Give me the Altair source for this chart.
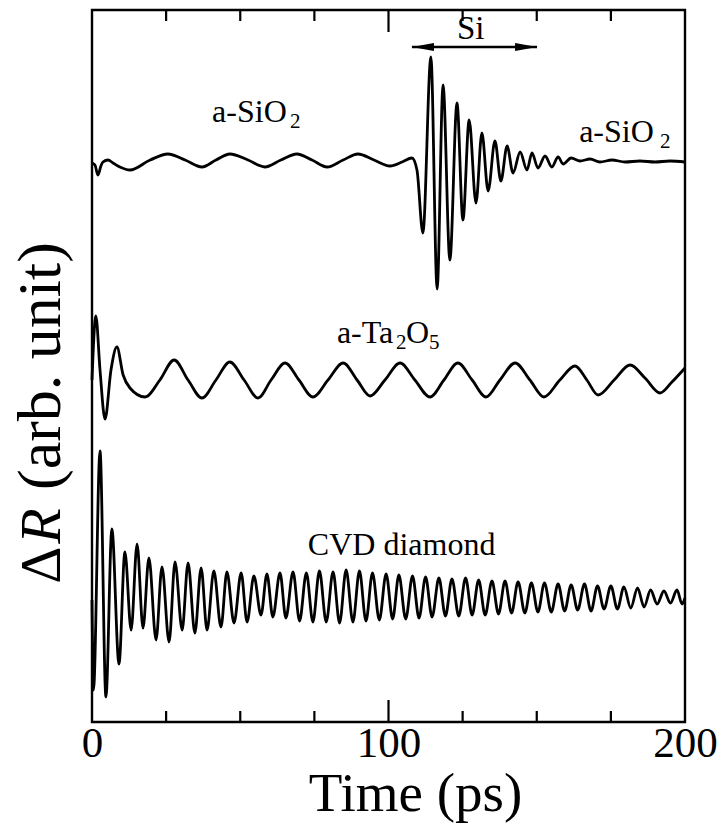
import altair as alt
import pandas as pd

# ---------------- data (time in ps, dR in arb. units) ----------------
sio2_t = [0.0, 1.0, 2.0, 3.0, 3.7, 5.4, 7.1, 9.4, 12.8, 19.6, 25.6, 31.4, 37.1, 41.8, 46.5,
          52.6, 58.3, 63.7, 69.1, 74.2, 79.3, 84.7, 89.7, 95.1, 100.5, 104.6, 107.9, 109.6,
          111.6, 114.3, 116.4, 118.4, 120.7, 123.1, 125.1, 127.2, 129.5, 131.5, 133.6, 135.9,
          137.9, 140.0, 142.0, 144.4, 146.7, 148.4, 150.4, 152.8, 155.1, 157.2, 158.9, 161.6,
          164.6, 168.0, 171.3, 175.4, 179.8, 184.8, 189.9, 194.9, 200.0]
sio2_dr = [559, 557, 547, 556, 560, 562, 559, 555, 552, 562, 568, 562, 555, 562, 568,
           562, 555, 562, 568, 562, 555, 562, 568, 562, 556, 560, 564, 552,
           489, 665, 433, 637, 462, 619, 502, 602, 519, 589, 531, 581,
           541, 576, 549, 570, 552, 569, 554, 566, 555, 565, 558, 564,
           561, 563, 560, 562, 560, 561, 560, 561, 560]

ta2o5_t = [0.0, 1.3, 2.7, 4.4, 6.4, 8.4, 10.5, 12.8, 17.9, 22.9, 27.7, 32.4, 37.1, 41.8, 46.5,
           51.3, 56.0, 60.4, 65.1, 69.8, 74.5, 79.6, 84.7, 89.4, 93.8, 98.8, 103.9, 108.9,
           114.0, 118.7, 123.4, 128.2, 132.9, 137.6, 142.7, 147.7, 152.4, 157.8, 162.9, 166.9,
           170.7, 176.1, 181.5, 186.5, 191.6, 195.6, 200.0]
ta2o5_dr = [342, 406, 352, 303, 352, 375, 347, 334, 325, 342, 362, 342, 324, 342, 360,
            342, 324, 342, 359, 342, 325, 342, 359, 342, 326, 342, 359, 342,
            325, 342, 359, 342, 325, 342, 359, 342, 325, 342, 356, 342,
            327, 342, 357, 344, 329, 340, 354]

diamond_t = [0.0, 0.5, 2.7, 4.7, 6.7, 9.1, 11.1, 13.2, 15.2, 17.2, 19.2, 21.6, 23.6, 26.0,
             28.0, 30.4, 32.4, 34.7, 36.8, 38.8, 41.1, 43.5, 45.5, 47.9, 50.3, 52.3, 54.6,
             57.0, 59.0, 61.0, 63.4, 65.4, 67.8, 70.0, 72.3, 74.5, 76.7, 79.0, 81.3, 83.5,
             85.7, 88.0, 90.2, 92.4, 94.6, 96.9, 99.2, 101.4, 103.5, 105.8, 108.1, 110.3,
             112.5, 114.7, 117.0, 119.2, 121.4, 123.7, 126.0, 128.2, 130.4, 132.6, 134.9,
             137.1, 139.3, 141.5, 143.7, 146.0, 148.2, 150.4, 152.6, 154.9, 157.2, 159.4,
             161.6, 163.8, 166.1, 168.3, 170.5, 172.7, 175.0, 177.2, 179.4, 181.7, 184.0,
             186.2, 188.4, 190.6, 192.9, 195.1, 197.3, 199.0, 200.0]
diamond_dr = [122, 32, 271, 25, 193, 58, 170, 92, 178, 94, 164, 82, 155, 80,
              160, 92, 159, 89, 154, 92, 151, 95, 150, 99, 149, 100, 146,
              107, 148, 105, 149, 104, 150, 101, 149, 100, 151, 100, 150, 99,
              152, 100, 151, 101, 149, 102, 148, 103, 147, 103, 146, 104,
              145, 105, 144, 106, 143, 106, 144, 107, 142, 107, 141,
              108, 141, 109, 140, 109, 139, 110, 139, 110, 138, 111,
              137, 112, 138, 111, 136, 113, 136, 113, 135, 114, 134,
              115, 132, 118, 131, 119, 132, 118, 124]

x_label_values = [0, 100, 200]
x_major_ticks = [100]
x_minor_ticks = [25, 50, 75, 125, 150, 175]

# annotation texts (position in data coordinates)
ann_text = ["a-SiO", "2", "a-SiO", "2", "Si", "a-Ta", "2", "O", "5", "CVD diamond"]
ann_t = [40.5, 66.8, 164.3, 191.6, 123.1, 82.6, 102.5, 105.9, 113.7, 72.8]
ann_dr = [600, 594, 580, 574, 683, 379, 373, 379, 373, 167]
ann_fs = [32, 21, 32, 21, 33, 32, 21, 32, 21, 32]

si_range = [107.9, 150.1]   # double arrow extent (ps)
si_arrow_dr = 675

FONT = "Liberation Serif"

# ---------------- build tables ----------------
rows = []
for name, ts, vs in [("a-SiO2", sio2_t, sio2_dr), ("a-Ta2O5", ta2o5_t, ta2o5_dr),
                     ("CVD diamond", diamond_t, diamond_dr)]:
    for i, (t, v) in enumerate(zip(ts, vs)):
        rows.append({"series": name, "t": t, "dr": v, "order": i})
traces = pd.DataFrame(rows)

tick_rows = []
for t in x_major_ticks:
    tick_rows.append({"t": t, "y0": 0, "y1": 22})
    tick_rows.append({"t": t, "y0": 712, "y1": 690})
for t in x_minor_ticks:
    tick_rows.append({"t": t, "y0": 0, "y1": 11})
    tick_rows.append({"t": t, "y0": 712, "y1": 701})
ticks = pd.DataFrame(tick_rows)

ann = pd.DataFrame({"text": ann_text, "t": ann_t, "dr": ann_dr, "fs": ann_fs})
arrow = pd.DataFrame({"t": [si_range[0]], "t2": [si_range[1]], "dr": [si_arrow_dr]})
head_l = pd.DataFrame({"t": [si_range[0]], "dr": [si_arrow_dr]})
head_r = pd.DataFrame({"t": [si_range[1]], "dr": [si_arrow_dr]})

xs = alt.Scale(domain=[0, 200], nice=False, zero=False)
ys = alt.Scale(domain=[0, 712], nice=False, zero=False)

x_axis = alt.Axis(values=x_label_values, title="Time (ps)", ticks=False, domain=False,
                  grid=False, labelFont=FONT, labelFontSize=43, labelColor="black",
                  labelPadding=0, labelFlush=False, titleFont=FONT, titleFontSize=55,
                  titleFontWeight="normal", titleColor="black", titlePadding=2,
                  titleX=323, titleAlign="center")

lines = alt.Chart(traces).mark_line(color="black", strokeWidth=2.8,
                                    interpolate="monotone").encode(
    x=alt.X("t:Q", scale=xs, axis=x_axis),
    y=alt.Y("dr:Q", scale=ys, axis=None),
    detail="series:N",
    order="order:Q",
)

tick_layer = alt.Chart(ticks).mark_rule(color="black", strokeWidth=2.2).encode(
    x=alt.X("t:Q", scale=xs),
    y=alt.Y("y0:Q", scale=ys),
    y2="y1:Q",
)

ann_layer = alt.Chart(ann).mark_text(font=FONT, align="left", baseline="alphabetic",
                                     color="black").encode(
    x=alt.X("t:Q", scale=xs),
    y=alt.Y("dr:Q", scale=ys),
    text="text:N",
    size=alt.Size("fs:Q", scale=None, legend=None),
)

arrow_line = alt.Chart(arrow).mark_rule(color="black", strokeWidth=2.6).encode(
    x=alt.X("t:Q", scale=xs), x2="t2:Q", y=alt.Y("dr:Q", scale=ys))
arrow_l = alt.Chart(head_l).mark_point(shape="M -1 0 L 1 -0.36 L 1 0.36 Z", filled=True,
                                       color="black", size=484, opacity=1, xOffset=11).encode(
    x=alt.X("t:Q", scale=xs), y=alt.Y("dr:Q", scale=ys))
arrow_r = alt.Chart(head_r).mark_point(shape="M 1 0 L -1 -0.36 L -1 0.36 Z", filled=True,
                                       color="black", size=484, opacity=1, xOffset=-11).encode(
    x=alt.X("t:Q", scale=xs), y=alt.Y("dr:Q", scale=ys))

# y-axis title: "ΔR (arb. unit)" with italic R, rotated
one = ann[ann["text"] == "Si"]
yt_delta = alt.Chart(one).mark_text(
    text="Δ", font=FONT, fontSize=58, angle=270, align="center", baseline="alphabetic",
    color="black").encode(x=alt.value(-32), y=alt.value(555))
yt_r = alt.Chart(one).mark_text(
    text="R", font=FONT, fontSize=58, fontStyle="italic", angle=270, align="center",
    baseline="alphabetic", color="black").encode(x=alt.value(-32), y=alt.value(516))
yt_rest = alt.Chart(one).mark_text(
    text="(arb. unit)", font=FONT, fontSize=62, angle=270, align="center",
    baseline="alphabetic", color="black").encode(x=alt.value(-32), y=alt.value(356))

chart = alt.layer(
    lines, tick_layer, arrow_line, arrow_l, arrow_r, ann_layer, yt_delta, yt_r, yt_rest
).properties(
    width=593, height=712,
    autosize=alt.AutoSizeParams(type="none"),
    padding={"left": 92, "top": 10, "right": 38, "bottom": 110},
    background="white",
).configure_view(stroke="black", strokeWidth=2.4)

chart.save("out.html", embed_options={"renderer": "svg", "actions": False})
